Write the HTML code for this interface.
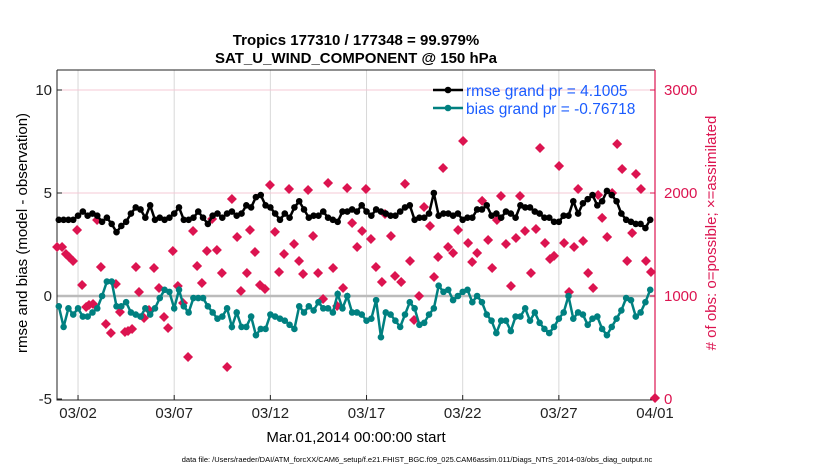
<!DOCTYPE html>
<html><head><meta charset="utf-8">
<style>
body{margin:0;background:#fff;}
svg{display:block;font-family:"Liberation Sans",Arial,sans-serif;}
</style></head>
<body>
<svg id="chart" width="830" height="470" viewBox="0 0 830 470" xmlns="http://www.w3.org/2000/svg">
<text x="356" y="45" font-size="15" font-weight="bold" text-anchor="middle">Tropics 177310 / 177348 = 99.979%</text>
<text x="356" y="63" font-size="15" font-weight="bold" text-anchor="middle">SAT_U_WIND_COMPONENT @ 150 hPa</text>
<text transform="translate(27,233) rotate(-90)" font-size="15" text-anchor="middle">rmse and bias (model - observation)</text>
<text transform="translate(716,233) rotate(-90)" font-size="15" text-anchor="middle" fill="#dc1450"># of obs: o=possible; ×=assimilated</text>
<text x="356" y="442" font-size="15" text-anchor="middle">Mar.01,2014 00:00:00 start</text>
<text x="417" y="462" font-size="7.5" text-anchor="middle">data file: /Users/raeder/DAI/ATM_forcXX/CAM6_setup/f.e21.FHIST_BGC.f09_025.CAM6assim.011/Diags_NTrS_2014-03/obs_diag_output.nc</text>
<g id="plot"></g>
</svg>
<script>
const xTickLabels=["03/02","03/07","03/12","03/17","03/22","03/27","04/01"];
const xTickDays=[1,6,11,16,21,26,31];
const yLeftTicks=[-5,0,5,10];
const yRightTicks=[0,1000,2000,3000];
const rmse=[3.7,3.7,3.7,3.7,3.9,4.1,3.9,4.0,3.9,3.6,3.8,3.5,3.1,3.4,3.6,4.0,4.3,4.2,3.8,4.4,3.7,3.8,3.7,3.8,4.0,4.3,3.7,3.7,3.8,4.1,3.8,3.5,3.9,4.0,3.8,4.0,4.1,3.9,4.0,4.4,
4.3,4.8,4.9,4.4,4.3,4.0,3.7,4.0,3.8,4.3,4.6,4.2,3.8,3.9,3.9,4.1,3.8,3.7,3.6,4.1,4.1,4.2,4.1,4.4,4.1,3.9,4.2,4.1,4.0,3.9,3.9,4.1,4.3,4.4,3.7,3.8,3.8,4.0,5.0,3.9,4.0,4.0,
3.9,4.0,3.7,3.8,3.8,4.2,4.2,4.4,3.9,4.0,3.8,4.1,4.0,3.8,4.4,4.3,4.3,4.1,4.0,3.8,3.8,3.6,3.6,3.9,3.9,4.6,4.0,4.5,4.7,4.9,4.4,4.6,5.1,4.9,4.6,4.0,3.7,3.6,3.5,3.5,3.3,3.7];
const bias=[-0.5,-1.5,-0.6,-0.9,-0.6,-1.0,-1.0,-0.8,-0.6,0.0,0.7,0.7,-0.5,-0.5,-0.3,-0.8,-0.9,-1.0,-0.6,-0.9,-0.6,-0.1,0.3,0.2,-0.6,0.3,-0.5,-0.8,-0.1,-0.1,-0.1,-0.5,-0.8,-1.1,-1.0,-0.6,-1.5,-0.8,-1.5,-1.5,
-1.0,-1.9,-1.6,-1.6,-0.9,-1.0,-1.1,-1.2,-1.4,-1.6,-0.5,-0.8,-0.5,-0.7,-0.3,-0.6,-0.6,-0.8,0.1,-0.6,0.0,-0.8,-0.8,-0.9,-1.2,-1.1,-0.2,-2.0,-0.8,-0.9,-1.2,-1.5,-0.9,-0.3,-0.6,-1.4,-1.3,-0.9,-0.6,0.5,0.2,0.3,
-0.2,0.0,0.2,0.3,-0.3,0.0,-0.3,-0.9,-1.2,-1.8,-1.2,-1.2,-1.7,-1.0,-1.0,-0.6,-1.2,-0.8,-1.3,-1.6,-1.8,-1.5,-1.1,-0.8,0.0,-1.1,-0.8,-0.9,-1.4,-1.1,-1.0,-1.6,-1.9,-1.5,-1.1,-0.7,-0.1,-0.2,-1.0,-0.8,-0.3,0.3];
const obsDays=[
-0.09,0.17,0.37,0.53,0.74,0.95,1.21,1.42,1.57,1.78,
1.99,2.19,2.45,2.71,2.97,3.18,3.44,3.60,3.81,4.01,
4.17,4.43,4.69,4.95,5.21,5.47,5.68,5.93,6.19,6.46,
6.72,6.98,7.19,7.44,7.70,7.97,8.22,8.48,8.75,9.0,
9.27,9.47,9.78,9.94,10.20,10.46,10.72,10.98,11.24,11.45,
11.71,11.97,12.23,12.49,12.70,12.96,13.22,13.48,13.74,14.0,
14.26,14.47,14.78,14.99,15.25,15.51,15.77,15.97,16.23,16.49,
16.80,16.96,17.27,17.48,17.80,18.0,18.26,18.47,18.73,18.99,
19.30,19.51,19.72,19.98,20.24,20.50,20.76,21.02,21.28,21.49,
21.75,22.01,22.32,22.53,22.78,22.99,23.25,23.51,23.77,23.98,
24.24,24.55,24.81,25.02,25.28,25.54,25.75,26.01,26.27,26.53,
26.79,27.0,27.26,27.52,27.78,28.04,28.25,28.51,28.77,29.03,
29.29,29.55,29.81,30.01,30.27,30.53,30.79,31.0];
const obsCounts=[
1476,1476,1408,1379,1340,1641,1107,893,913,922,
1738,1282,728,641,1117,845,651,660,680,1282,
1039,787,864,1272,1078,796,689,1437,1097,932,
408,1631,1291,1126,1437,1748,1447,1223,311,1942,
1573,1049,1223,1641,1427,1107,1068,2078,1622,1233,
1408,2039,1505,1340,1214,2029,1583,1223,971,2097,
1272,903,1078,2049,1709,1476,1631,2039,1554,1282,
1136,1796,1583,1194,1136,2088,1340,767,1000,1864,
1680,1185,1379,2243,1476,1418,1641,2505,1515,1330,
1418,1923,1544,1272,1738,1971,1505,1097,1563,1971,
1631,1223,1651,2437,1515,1359,1389,2262,1515,1039,
1476,2039,1534,1223,1078,1981,1758,1573,2000,2476,
2233,1340,1612,2185,2039,1340,1233,10];
const NS="http://www.w3.org/2000/svg";
const L=57,R=655,T=70,B=400;
function X(d){return 58.8+d*19.233;}
function YL(v){return 296-v*20.6;}
function YR(c){return 399-c*0.103;}
const g=document.getElementById('plot');
function mk(tag,attrs,parent){const e=document.createElementNS(NS,tag);for(const k in attrs)e.setAttribute(k,attrs[k]);(parent||g).appendChild(e);return e;}
xTickDays.forEach((d,i)=>{
 const ln=mk('line',{x1:X(d),x2:X(d),y1:T,y2:B,stroke:'#d8d8d8','stroke-width':1});
 
 
 const tk=mk('line',{x1:X(d),x2:X(d),y1:B,y2:B-5,stroke:'#222'});
 
 
 const t=mk('text',{x:X(d),y:B+18,'font-size':15,'text-anchor':'middle',fill:'#222'});
 t.textContent=xTickLabels[i];
 
 
});
yLeftTicks.forEach(v=>{
 if(v>0){const gl=mk('line',{x1:L,x2:R,y1:YL(v),y2:YL(v),stroke:'#f4c8d6','stroke-width':1});
 
 }
 const tk=mk('line',{x1:L,x2:L+5,y1:YL(v),y2:YL(v),stroke:'#222'});
 
 
 const t=mk('text',{x:L-5,y:YL(v)+5,'font-size':15,'text-anchor':'end',fill:'#222'});
 t.textContent=v;
 
 
});
const zl=mk('line',{x1:L,x2:R,y1:YL(0),y2:YL(0),stroke:'#bbb','stroke-width':2.5});


yRightTicks.forEach(c=>{
 const tk=mk('line',{x1:R-5,x2:R,y1:YR(c),y2:YR(c),stroke:'#dc1450'});
 
 
 const t=mk('text',{x:R+9,y:YR(c)+5,'font-size':15,fill:'#dc1450'});
 t.textContent=c;
 
 
});
const ax=mk('path',{d:`M${L},${T}V${B}H${R}`,fill:'none',stroke:'#222','stroke-width':1});


const tx=mk('line',{x1:L,x2:R,y1:T,y2:T,stroke:'#222'});


const rx=mk('line',{x1:R,x2:R,y1:T,y2:B,stroke:'#dc1450','stroke-width':1.2});


obsDays.forEach((d,i)=>{
 const x=X(d),y=YR(obsCounts[i]);
 const p=mk('path',{d:`M${x},${y-5}L${x+5},${y}L${x},${y+5}L${x-5},${y}Z`,fill:'#dc1450'});
 
 
});
function series(vals,color,name){
 const pts=vals.map((v,i)=>[X(i*0.25),YL(v)]);
 const pl=mk('polyline',{points:pts.map(p=>p.join(',')).join(' '),fill:'none',stroke:color,'stroke-width':2.5});
 
 
 pts.forEach(p=>{
  const c=mk('circle',{cx:p[0],cy:p[1],r:3.3,fill:color});
  
  
 });
}
series(bias,'#008080','bias');
series(rmse,'#000','rmse');
[['#000','rmse grand pr = 4.1005',90],['#008080','bias grand pr = -0.76718',108]].forEach((e,i)=>{
 const ln=mk('line',{x1:433,x2:463,y1:e[2],y2:e[2],stroke:e[0],'stroke-width':2.5});
 
 
 const c=mk('circle',{cx:448,cy:e[2],r:3.3,fill:e[0]});
 
 
 const t=mk('text',{x:466,y:e[2]+6,'font-size':15.5,fill:'#1a5cff'});
 t.textContent=e[1];
 
 
});
</script>
</body></html>
